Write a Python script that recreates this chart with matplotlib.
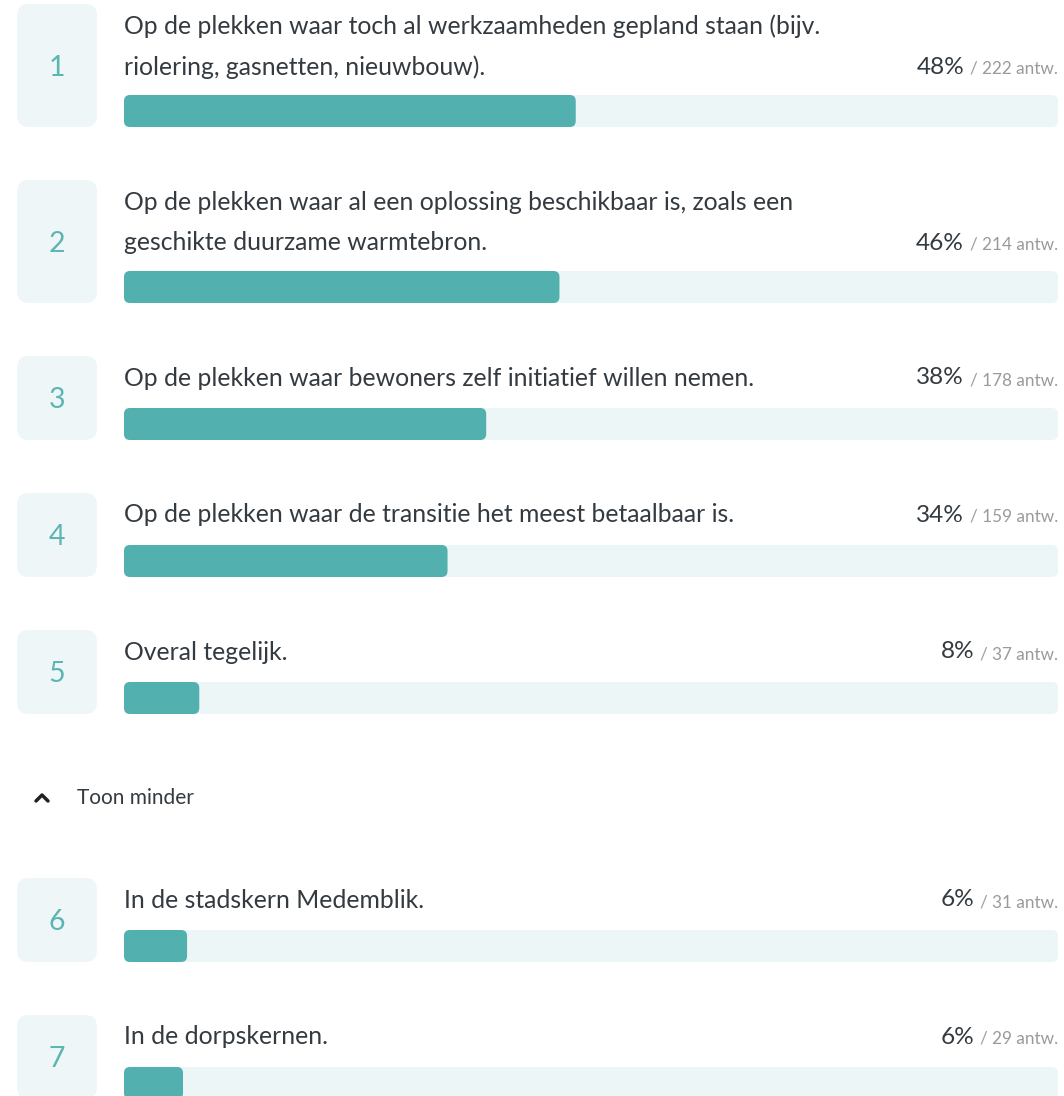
import matplotlib.pyplot as plt
from matplotlib.patches import FancyBboxPatch

# data
labels = [
    "Op de plekken waar toch al werkzaamheden gepland staan (bijv.\nriolering, gasnetten, nieuwbouw).",
    "Op de plekken waar al een oplossing beschikbaar is, zoals een\ngeschikte duurzame warmtebron.",
    "Op de plekken waar bewoners zelf initiatief willen nemen.",
    "Op de plekken waar de transitie het meest betaalbaar is.",
    "Overal tegelijk.",
    "In de stadskern Medemblik.",
    "In de dorpskernen.",
]
percents = [48, 46, 38, 34, 8, 6, 6]
counts = [222, 214, 178, 159, 37, 31, 29]
total_resp = 459
toggle_label = "Toon minder"
toggle_after = 5

# style
TEAL = "#52B0AE"
TRACK = "#EDF6F7"
BOX = "#EEF6F7"
NUM = "#5BB5B3"
TXT = "#333A40"
GREY = "#9A9A9A"
plt.rcParams['font.family'] = ['Lato', 'DejaVu Sans']

W, H = 1064, 1096
fig = plt.figure(figsize=(W / 100, H / 100), dpi=100)
ax = fig.add_axes([0, 0, 1, 1])
ax.set_xlim(0, W)
ax.set_ylim(H, 0)
ax.axis('off')

x_box, box_w = 17, 80
x_bar, bar_w, bar_h = 124, 934, 32
line_h = 41

top = 4
for i, (lab, pct, n) in enumerate(zip(labels, percents, counts)):
    lines = lab.split("\n")
    nlines = len(lines)
    box_h = 84 + 39 * (nlines - 1)

    # number tile
    ax.add_patch(FancyBboxPatch((x_box, top), box_w, box_h,
                                boxstyle="round,pad=0,rounding_size=12",
                                fc=BOX, ec='none'))
    ax.text(x_box + box_w / 2, top + box_h / 2 + 2, str(i + 1), ha='center', va='center',
            fontsize=20.5, color=NUM)

    for j, line in enumerate(lines):
        ax.text(x_bar, top + 22 + j * line_h, line, ha='left', va='center',
                fontsize=17.8, color=TXT)
    last_y = top + 22 + (nlines - 1) * line_h

    # percent + count on the right
    t = ax.text(x_bar + bar_w, last_y + 2, f"/ {n} antw.", ha='right', va='center',
                fontsize=12.3, color=GREY)
    fig.canvas.draw()
    x_left = t.get_window_extent().x0 - 6
    xd = ax.transData.inverted().transform((x_left, 0))[0]
    ax.text(xd, last_y, f"{pct}%", ha='right', va='center', fontsize=17.6, color=TXT)

    # track + bar
    bar_top = top + box_h - bar_h
    ax.add_patch(FancyBboxPatch((x_bar, bar_top), bar_w, bar_h,
                                boxstyle="round,pad=0,rounding_size=6",
                                fc=TRACK, ec='none'))
    ax.add_patch(FancyBboxPatch((x_bar, bar_top), bar_w * n / total_resp, bar_h,
                                boxstyle="round,pad=0,rounding_size=6",
                                fc=TEAL, ec='none'))

    top += box_h + 53
    if i + 1 == toggle_after:
        ty = 798
        ax.plot([36, 42, 48], [801, 795, 801], color='#222222', lw=2.5,
                solid_capstyle='round', solid_joinstyle='round')
        ax.text(77, ty, toggle_label, ha='left', va='center', fontsize=15, color=TXT)
        top = 878

fig.savefig("out.png", dpi=100)
